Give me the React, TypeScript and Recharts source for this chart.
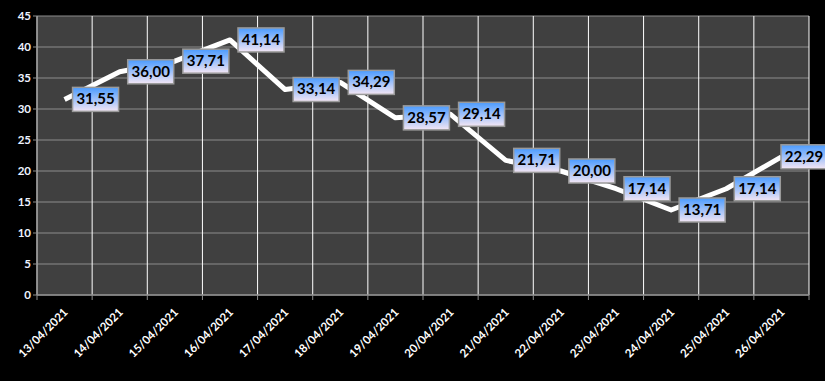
import { CartesianGrid, LabelList, Line, LineChart, XAxis, YAxis } from "recharts";

const dates = [
  "13/04/2021", "14/04/2021", "15/04/2021", "16/04/2021", "17/04/2021",
  "18/04/2021", "19/04/2021", "20/04/2021", "21/04/2021", "22/04/2021",
  "23/04/2021", "24/04/2021", "25/04/2021", "26/04/2021",
];
const values = [
  31.55, 36.0, 37.71, 41.14, 33.14, 34.29, 28.57, 29.14, 21.71, 20.0, 17.14,
  13.71, 17.14, 22.29,
];
const yTicks = [0, 5, 10, 15, 20, 25, 30, 35, 40, 45];

const data = dates.map((date, i) => ({ date, value: values[i] }));

const FONT = "Lato, 'Liberation Sans', sans-serif";
const CHART_W = 825;
const CHART_H = 381;

function ValueBox(props: any) {
  const { x, y, value } = props;
  const w = 46;
  const h = 24;
  // keep the box inside the chart, like the last label in the reference
  const bx = Math.min(x + 8, CHART_W - w + 2);
  const by = y - h / 2;
  return (
    <g>
      <rect
        x={bx}
        y={by}
        width={w}
        height={h}
        fill="url(#boxFill)"
        stroke="#9a9a9a"
        strokeWidth={1.5}
      />
      <text
        x={bx + w / 2}
        y={by + h / 2 + 1}
        textAnchor="middle"
        dominantBaseline="middle"
        fontFamily={FONT}
        fontWeight={700}
        fontSize={15}
        fill="#000"
      >
        {Number(value).toFixed(2).replace(".", ",")}
      </text>
    </g>
  );
}

function DateTick(props: any) {
  const { x, y, payload, index, visibleTicksCount } = props;
  const band = 772 / dates.length;
  const top = y - 8;
  const left = x - band / 2;
  return (
    <g>
      <line x1={left} y1={top} x2={left} y2={top + 5} stroke="#8c8c8c" />
      {index === visibleTicksCount - 1 && (
        <line x1={left + band} y1={top} x2={left + band} y2={top + 5} stroke="#8c8c8c" />
      )}
      <text
        x={x + 4}
        y={y + 10}
        transform={`rotate(-45 ${x + 4} ${y + 10})`}
        textAnchor="end"
        fontFamily={FONT}
        fontWeight={700}
        fontSize={11.5}
        fill="#ffffff"
      >
        {payload.value}
      </text>
    </g>
  );
}

export default function App() {
  return (
    <div style={{ position: "absolute", left: 0, top: 0, width: CHART_W, height: CHART_H, background: "#000" }}>
      <LineChart
        width={CHART_W}
        height={CHART_H}
        data={data}
        margin={{ top: 16, right: 16, bottom: 0, left: 0 }}
      >
        <defs>
          <linearGradient id="boxFill" x1="0" y1="0" x2="0" y2="1">
            <stop offset="0%" stopColor="#4a9bff" />
            <stop offset="100%" stopColor="#f4e6f4" />
          </linearGradient>
        </defs>
        <CartesianGrid vertical={false} stroke="#8c8c8c" strokeWidth={1} fill="#404040" />
        <CartesianGrid
          horizontal={false}
          stroke="#ffffff"
          strokeWidth={1}
          verticalCoordinatesGenerator={({ offset }: any) =>
            Array.from({ length: dates.length + 1 }, (_, i) => offset.left + (i * offset.width) / dates.length)
          }
        />
        <XAxis
          dataKey="date"
          scale="band"
          interval={0}
          height={86}
          axisLine={{ stroke: "#8c8c8c", strokeWidth: 1.5 }}
          tickLine={false}
          tick={<DateTick />}
        />
        <YAxis
          width={37}
          domain={[0, 45]}
          ticks={yTicks}
          interval={0}
          tickSize={4}
          tickLine={{ stroke: "#8c8c8c" }}
          axisLine={{ stroke: "#8c8c8c", strokeWidth: 1.5 }}
          tick={{ fill: "#eef3ff", fontSize: 11.5, fontWeight: 700, fontFamily: FONT }}
        />
        <Line
          type="linear"
          dataKey="value"
          stroke="#ffffff"
          strokeWidth={5}
          strokeLinejoin="round"
          dot={false}
          isAnimationActive={false}
        >
          <LabelList dataKey="value" content={<ValueBox />} />
        </Line>
      </LineChart>
    </div>
  );
}
